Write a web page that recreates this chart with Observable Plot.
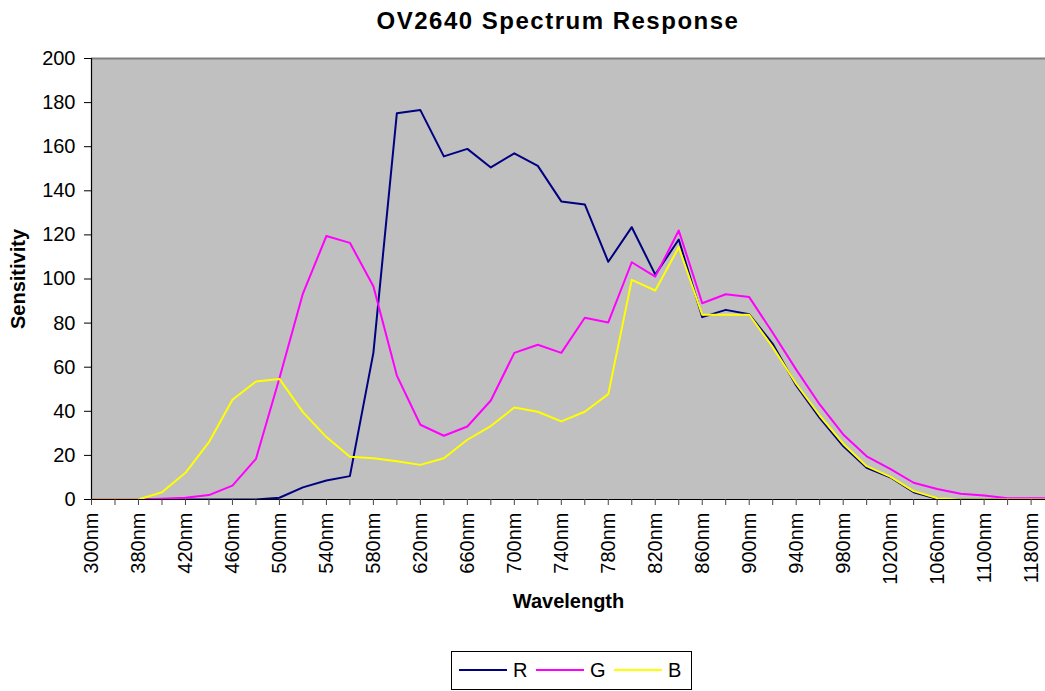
<!DOCTYPE html>
<html><head><meta charset="utf-8">
<script src="https://cdn.jsdelivr.net/npm/d3@7"></script>
<script src="https://cdn.jsdelivr.net/npm/@observablehq/plot@0.6"></script>
<style>
body{margin:0;background:#fff;font-family:"Liberation Sans",Arial,sans-serif;}
#title{height:40px;width:1045px;box-sizing:border-box;padding-left:71px;text-align:center;font-weight:bold;font-size:24px;letter-spacing:1.5px;line-height:42px;color:#000;}
#chart svg{overflow:hidden;display:block}
#legend{position:relative;margin-left:451px;margin-top:11px;width:241px;height:39px;box-sizing:border-box;border:1px solid #000;font-size:20px;}
#legend .sw{position:absolute;top:17px;width:48px;height:0;border-top:2px solid;}
#legend .lb{position:absolute;top:7px;line-height:22px;}
</style></head>
<body>
<div id="title">OV2640 Spectrum Response</div>
<div id="chart"></div>
<div id="legend">
  <span class="sw" style="left:7px;border-color:#000080"></span><span class="lb" style="left:61px">R</span>
  <span class="sw" style="left:84px;border-color:#FF00FF"></span><span class="lb" style="left:138px">G</span>
  <span class="sw" style="left:162px;border-color:#FFFF00"></span><span class="lb" style="left:216px">B</span>
</div>
<script>
const categories = ["300nm","340nm","380nm","400nm","420nm","440nm","460nm","480nm","500nm","520nm",
  "540nm","560nm","580nm","600nm","620nm","640nm","660nm","680nm","700nm","720nm",
  "740nm","760nm","780nm","800nm","820nm","840nm","860nm","880nm","900nm","920nm",
  "940nm","960nm","980nm","1000nm","1020nm","1040nm","1060nm","1080nm","1100nm","1140nm",
  "1180nm","1200nm"];
const R = [0,0,0,0,0,0,0,0,0.8,5.5,
  8.6,10.6,66.5,175.2,176.6,155.6,159,150.6,157,151.3,
  135.2,133.8,107.8,123.5,102,117.9,82.7,86,84,70.6,
  51.7,37,24.2,14.4,10.1,3.3,0.3,0,0,0,
  0,0];
const G = [0,0,0,0.3,0.8,2,6.3,18.4,55,93.4,
  119.5,116.4,96.7,56.2,33.9,28.9,33.1,44.9,66.5,70.2,
  66.5,82.4,80.3,107.6,101.1,122,89,93.1,91.8,75.6,
  58.9,43.1,29.5,19.6,13.9,7.6,4.8,2.6,1.8,0.6,
  0.6,0.6];
const B = [0,0,0,3.3,12.1,26,45.2,53.5,54.7,39.6,
  28.3,19.4,18.7,17.3,15.7,18.7,27.1,33.3,41.7,39.8,
  35.4,39.8,47.8,99.6,94.8,114.4,83.8,83.8,83.8,69.1,
  52.5,38.1,25.3,15.1,10.4,3.8,0.6,0,0,0,
  0,0];
const yTicks = [0,20,40,60,80,100,120,140,160,180,200];
const seriesNames = ["R","G","B"];
const seriesColors = ["#000080","#FF00FF","#FFFF00"];

const idx = categories.map((c, i) => i);
const series = [R, G, B];
const rows = seriesNames.map((s, k) => categories.map((c, i) => ({i, cat: c, v: series[k][i], s})));

const font = '"Liberation Sans", Arial, sans-serif';
const chart = Plot.plot({
  width: 1045,
  height: 600,
  marginLeft: 91,
  marginRight: 0,
  marginTop: 18,
  marginBottom: 141,
  style: {fontFamily: font, fontSize: "20px", color: "#000", background: "#fff"},
  x: {type: "linear", domain: [0, categories.length - 1], range: [91, 91 + (categories.length - 1) * 23.49]},
  y: {domain: [0, 200]},
  marks: [
    Plot.frame({fill: "#C0C0C0", stroke: null}),
    Plot.ruleY([200], {stroke: "#808080", strokeWidth: 2}),
    ...rows.map((r, k) => Plot.line(r, {x: "i", y: "v", stroke: seriesColors[k], strokeWidth: 2, clip: "frame"})),
    Plot.ruleX([0], {stroke: "#000", strokeWidth: 1.2}),
    Plot.ruleY([0], {stroke: "#000", strokeWidth: 1.2}),
    Plot.axisY({ticks: yTicks, tickSize: 7, tickPadding: 9, label: null, fontSize: 20, stroke: "#000"}),
    Plot.axisX({ticks: idx, tickSize: 6, tickPadding: 7, tickRotate: -90, label: null,
      tickFormat: i => i % 2 === 0 ? categories[i] : "", fontSize: 20, stroke: "#444"}),
    Plot.text(["Wavelength"], {frameAnchor: "bottom", dy: 108, fontWeight: "bold", fontSize: 20, letterSpacing: "1px"}),
    Plot.text(["Sensitivity"], {frameAnchor: "left", textAnchor: "middle", dx: -73, rotate: -90, fontWeight: "bold", fontSize: 20})
  ]
});
document.getElementById("chart").appendChild(chart);
</script>
</body></html>
